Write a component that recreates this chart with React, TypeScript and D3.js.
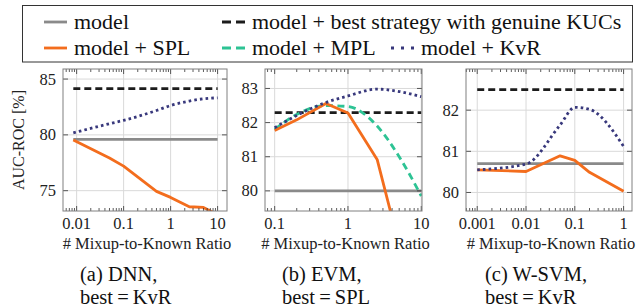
import * as d3 from "d3";

// ---- data ----
const dnnRatios = [0.0085, 0.05, 0.1, 0.5, 1, 2.5, 5, 10];
const dnnSPL = [79.55, 77.93, 77.2, 74.94, 74.4, 73.56, 73.5, 72.85];
const dnnKvR = [80.18, 81.0, 81.3, 82.18, 82.63, 83.03, 83.23, 83.32];
const dnnModel = 79.6;
const dnnBest = 84.15;
const dnnXTicks = [0.01, 0.1, 1, 10];
const dnnYTicks = [75, 80, 85];

const evmRatios = [0.1, 0.2, 0.5, 1, 2.5, 5, 10];
const evmSPL = [81.77, 82.08, 82.56, 82.28, 80.92, 78.4, 76.0];
const evmMPL = [81.8, 82.24, 82.5, 82.47, 81.9, 81.0, 79.85];
const evmKvR = [81.85, 82.21, 82.59, 82.78, 82.98, 82.91, 82.76];
const evmModel = 80.0;
const evmBest = 82.29;
const evmXTicks = [0.1, 1, 10];
const evmYTicks = [80, 81, 82, 83];

const wsvmRatios = [0.001, 0.01, 0.05, 0.1, 0.2, 1];
const wsvmSPL = [80.55, 80.51, 80.89, 80.78, 80.49, 80.03];
const wsvmKvR = [80.55, 80.69, 81.64, 82.07, 82.02, 81.12];
const wsvmModel = 80.7;
const wsvmBest = 82.5;
const wsvmXTicks = [0.001, 0.01, 0.1, 1];
const wsvmYTicks = [80, 81, 82];

const legendLabels = [
  "model",
  "model + best strategy with genuine KUCs",
  "model + SPL",
  "model + MPL",
  "model + KvR",
];
const captions = [
  ["(a) DNN,", "best\u2009=\u2009KvR"],
  ["(b) EVM,", "best\u2009=\u2009SPL"],
  ["(c) W-SVM,", "best\u2009=\u2009KvR"],
];

// ---- styles ----
const FONT = "Liberation Serif, Times New Roman, Times, DejaVu Serif, serif";
const C_MODEL = "#8a8a8a";
const C_BEST = "#1c1c1c";
const C_SPL = "#f36d1d";
const C_MPL = "#2dc394";
const C_KVR = "#38387c";
const LW = 2.8;
const DASH_BEST = "7,4";
const DASH_MPL = "7,4.5";
const DASH_KVR = "2.6,3.1";

const TOP = 69;
const BOTTOM = 211;

const panels = [
  {
    x0: 63, x1: 227, xdom: [10 ** -2.29, 10 ** 1.2], ydom: [73.18, 85.9],
    ratios: dnnRatios, spl: dnnSPL, mpl: null as number[] | null, kvr: dnnKvR,
    model: dnnModel, best: dnnBest, xticks: dnnXTicks, yticks: dnnYTicks,
    caption: captions[0], capX: 80,
  },
  {
    x0: 265, x1: 422, xdom: [10 ** -1.132, 10 ** 1.01], ydom: [79.41, 83.57],
    ratios: evmRatios, spl: evmSPL, mpl: evmMPL, kvr: evmKvR,
    model: evmModel, best: evmBest, xticks: evmXTicks, yticks: evmYTicks,
    caption: captions[1], capX: 282,
  },
  {
    x0: 466, x1: 632, xdom: [10 ** -3.23, 10 ** 0.172], ydom: [79.55, 83.0],
    ratios: wsvmRatios, spl: wsvmSPL, mpl: null as number[] | null, kvr: wsvmKvR,
    model: wsvmModel, best: wsvmBest, xticks: wsvmXTicks, yticks: wsvmYTicks,
    caption: captions[2], capX: 485,
  },
];

type P = (typeof panels)[number];

function Panel({ p, idx }: { p: P; idx: number }) {
  const x = d3.scaleLog().domain(p.xdom).range([p.x0, p.x1]);
  const y = d3.scaleLinear().domain(p.ydom).range([BOTTOM, TOP]);

  const poly = d3.line<number>().x((_, i) => x(p.ratios[i])).y((d) => y(d));
  const smooth = d3
    .line<number>()
    .x((_, i) => x(p.ratios[i]))
    .y((d) => y(d))
    .curve(d3.curveMonotoneX);

  const xFirst = p.ratios[0];
  const xLast = p.ratios[p.ratios.length - 1];

  // minor log ticks (2..9 of each decade)
  const isDecade = (v: number) => Math.abs(Math.log10(v) - Math.round(Math.log10(v))) < 1e-6;
  const minor = x.ticks(20).filter((v) => !isDecade(v));

  const clipId = `clip-${idx}`;
  const tickCol = "#333";

  return (
    <g>
      <defs>
        <clipPath id={clipId}>
          <rect x={p.x0} y={TOP} width={p.x1 - p.x0} height={BOTTOM - TOP} />
        </clipPath>
      </defs>

      {/* grid */}
      <g stroke="#d9d9d9" strokeWidth={1}>
        {p.xticks.map((t) => (
          <line key={"gx" + t} x1={x(t)} x2={x(t)} y1={TOP} y2={BOTTOM} />
        ))}
        {p.yticks.map((t) => (
          <line key={"gy" + t} x1={p.x0} x2={p.x1} y1={y(t)} y2={y(t)} />
        ))}
      </g>

      {/* data */}
      <g clipPath={`url(#${clipId})`} fill="none" strokeWidth={LW}>
        <line x1={x(xFirst)} x2={x(xLast)} y1={y(p.model)} y2={y(p.model)} stroke={C_MODEL} />
        <line
          x1={x(xFirst)} x2={x(xLast)} y1={y(p.best)} y2={y(p.best)}
          stroke={C_BEST} strokeDasharray={DASH_BEST}
        />
        {p.mpl && (
          <path d={smooth(p.mpl) ?? ""} stroke={C_MPL} strokeDasharray={DASH_MPL} />
        )}
        <path d={poly(p.spl) ?? ""} stroke={C_SPL} strokeLinejoin="round" />
        <path d={smooth(p.kvr) ?? ""} stroke={C_KVR} strokeDasharray={DASH_KVR} />
      </g>

      {/* ticks, mirrored on all sides */}
      <g stroke={tickCol} strokeWidth={0.8}>
        {p.xticks.map((t) => (
          <g key={"tx" + t}>
            <line x1={x(t)} x2={x(t)} y1={BOTTOM} y2={BOTTOM - 5} />
            <line x1={x(t)} x2={x(t)} y1={TOP} y2={TOP + 5} />
          </g>
        ))}
        {minor.map((t, i) => (
          <g key={"mx" + i}>
            <line x1={x(t)} x2={x(t)} y1={BOTTOM} y2={BOTTOM - 3} />
            <line x1={x(t)} x2={x(t)} y1={TOP} y2={TOP + 3} />
          </g>
        ))}
        {p.yticks.map((t) => (
          <g key={"ty" + t}>
            <line x1={p.x0} x2={p.x0 + 5} y1={y(t)} y2={y(t)} />
            <line x1={p.x1} x2={p.x1 - 5} y1={y(t)} y2={y(t)} />
          </g>
        ))}
      </g>

      {/* frame */}
      <rect
        x={p.x0} y={TOP} width={p.x1 - p.x0} height={BOTTOM - TOP}
        fill="none" stroke="#808080" strokeWidth={1}
      />

      {/* tick labels */}
      <g style={{ fontFamily: FONT }} fontSize={16.5} fill="#222">
        {p.xticks.map((t) => (
          <text key={"lx" + t} x={x(t)} y={228.5} textAnchor="middle">
            {String(t)}
          </text>
        ))}
        {p.yticks.map((t) => (
          <text key={"ly" + t} x={p.x0 - 7} y={y(t) + 5.5} textAnchor="end">
            {String(t)}
          </text>
        ))}
        <text x={(p.x0 + p.x1) / 2 + 2} y={249} textAnchor="middle">
          # Mixup-to-Known Ratio
        </text>
      </g>

      {/* caption */}
      <g style={{ fontFamily: FONT }} fontSize={20.5} fill="#111">
        <text x={p.capX} y={280.5}>{p.caption[0]}</text>
        <text x={p.capX} y={303.5}>{p.caption[1]}</text>
      </g>
    </g>
  );
}

function Legend() {
  const r1 = 22;
  const r2 = 48;
  const items = [
    { label: legendLabels[0], x: 44, y: r1, stroke: C_MODEL, dash: undefined as string | undefined },
    { label: legendLabels[1], x: 222, y: r1, stroke: C_BEST, dash: "9,5" },
    { label: legendLabels[2], x: 44, y: r2, stroke: C_SPL, dash: undefined },
    { label: legendLabels[3], x: 222, y: r2, stroke: C_MPL, dash: "9,5" },
    { label: legendLabels[4], x: 391, y: r2, stroke: C_KVR, dash: "3,7" },
  ];
  return (
    <g>
      <rect x={22.5} y={5.5} width={610} height={56.5} fill="#fff" stroke="#333" strokeWidth={1} />
      {items.map((it) => (
        <g key={it.label}>
          <line
            x1={it.x} x2={it.x + 23} y1={it.y} y2={it.y}
            stroke={it.stroke} strokeWidth={LW} strokeDasharray={it.dash}
          />
          <text x={it.x + 30} y={it.y + 6.5} style={{ fontFamily: FONT }} fontSize={22} fill="#111">
            {it.label}
          </text>
        </g>
      ))}
    </g>
  );
}

export default function App() {
  return (
    <svg
      width={641}
      height={308}
      viewBox="0 0 641 308"
      style={{ position: "absolute", left: 0, top: 0, background: "#fff" }}
    >
      <rect width={641} height={308} fill="#fff" />
      <Legend />
      {panels.map((p, i) => (
        <Panel key={i} p={p} idx={i} />
      ))}
      <text
        transform="translate(18.5,140) rotate(-90)"
        textAnchor="middle"
        dominantBaseline="central"
        style={{ fontFamily: FONT }}
        fontSize={16}
        fill="#222"
      >
        AUC-ROC [%]
      </text>
    </svg>
  );
}
